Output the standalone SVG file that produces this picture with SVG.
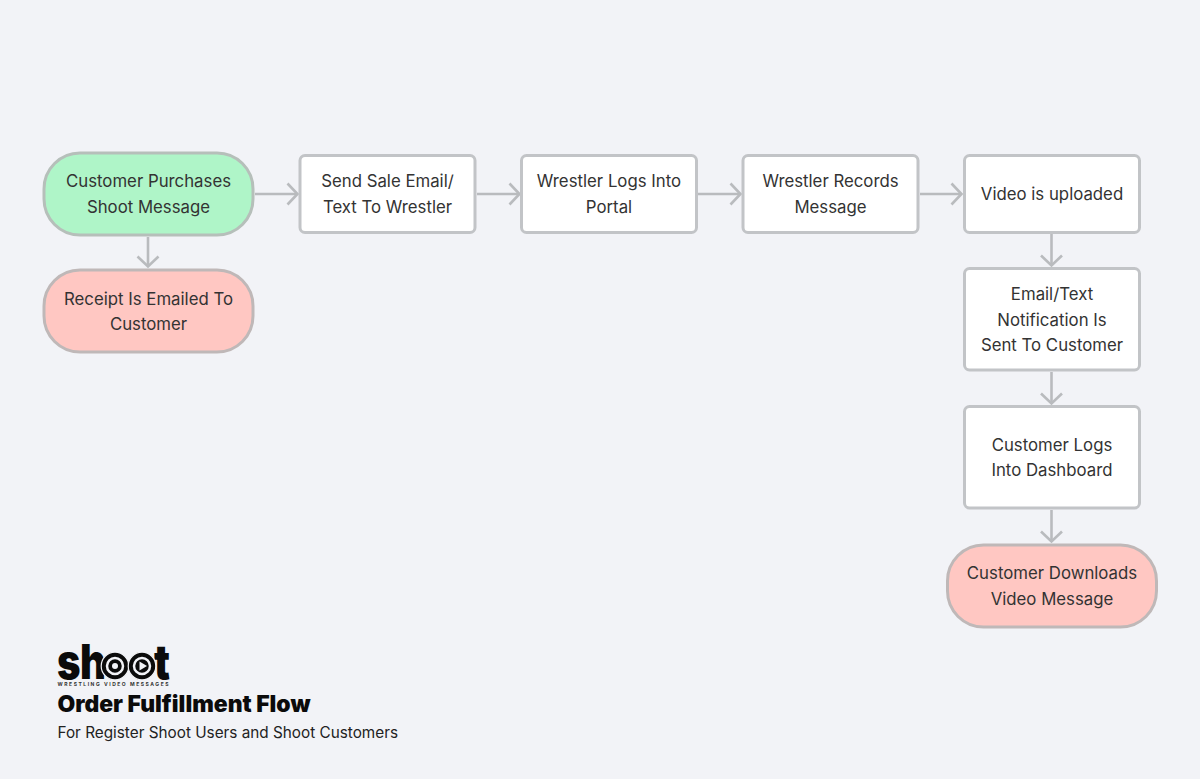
<svg xmlns="http://www.w3.org/2000/svg" width="1200" height="779" viewBox="0 0 1200 779">
<style>
text{font-family:Inter,"Liberation Sans",sans-serif}
.l{font-size:16.800px;fill:#333;text-anchor:middle}
.b{fill:#fff;stroke:#c2c4c7;stroke-width:3}
.g{fill:#aff5c8;stroke:#b6bfba;stroke-width:3}
.r{fill:#ffc7c2;stroke:#bfb8b8;stroke-width:3}
.c{fill:none;stroke:#b9bbbe;stroke-width:2.6}
</style>
<defs>
<marker id="a" markerUnits="userSpaceOnUse" markerWidth="20" markerHeight="24" refX="17" refY="12" orient="auto"><path d="M7.500 1.500 L17.500 12 L7.500 22.500" fill="none" stroke="#b9bbbe" stroke-width="2.6"/></marker>
</defs>
<rect width="1200" height="779" fill="#f2f3f7"/>
<g id="connectors">
<path class="c" marker-end="url(#a)" d="M255 194H297"/>
<path class="c" marker-end="url(#a)" d="M477 194H519"/>
<path class="c" marker-end="url(#a)" d="M698 194H740"/>
<path class="c" marker-end="url(#a)" d="M920 194H961"/>
<path class="c" marker-end="url(#a)" d="M148 237V266"/>
<path class="c" marker-end="url(#a)" d="M1051.500 234V265"/>
<path class="c" marker-end="url(#a)" d="M1051.500 372V403"/>
<path class="c" marker-end="url(#a)" d="M1051.500 510V541"/>
</g>
<g id="n1"><rect class="g" x="44" y="153" width="209" height="82" rx="36"/><text class="l" x="148.500" y="187">Customer Purchases</text><text class="l" x="148.500" y="212.500">Shoot Message</text></g>
<g id="n2"><rect class="r" x="44" y="270" width="209" height="82" rx="36"/><text class="l" x="148.500" y="305">Receipt Is Emailed To</text><text class="l" x="148.500" y="330">Customer</text></g>
<g id="n3"><rect class="b" x="300" y="155.500" width="175" height="77" rx="5"/><text class="l" x="387.500" y="187">Send Sale Email/</text><text class="l" x="387.500" y="212.500">Text To Wrestler</text></g>
<g id="n4"><rect class="b" x="521.500" y="155.500" width="175" height="77" rx="5"/><text class="l" x="609" y="187">Wrestler Logs Into</text><text class="l" x="609" y="212.500">Portal</text></g>
<g id="n5"><rect class="b" x="743" y="155.500" width="175" height="77" rx="5"/><text class="l" x="830.500" y="187">Wrestler Records</text><text class="l" x="830.500" y="212.500">Message</text></g>
<g id="n6"><rect class="b" x="964.500" y="155.500" width="175" height="77" rx="5"/><text class="l" x="1052" y="200">Video is uploaded</text></g>
<g id="n7"><rect class="b" x="964.500" y="268.500" width="175" height="101.500" rx="5"/><text class="l" x="1052" y="300">Email/Text</text><text class="l" x="1052" y="325.500">Notification Is</text><text class="l" x="1052" y="350.500">Sent To Customer</text></g>
<g id="n8"><rect class="b" x="964.500" y="406.500" width="175" height="101.500" rx="5"/><text class="l" x="1052" y="451">Customer Logs</text><text class="l" x="1052" y="476">Into Dashboard</text></g>
<g id="n9"><rect class="r" x="947.500" y="545" width="209" height="82" rx="36"/><text class="l" x="1052" y="579">Customer Downloads</text><text class="l" x="1052" y="604.500">Video Message</text></g>
<g id="title">
<text transform="translate(0 679) scale(1 1.200)" x="57 80 102 129 154" y="0" font-size="40" font-weight="900" fill="#0b0b0b">shoot</text>
<circle cx="115" cy="666" r="13.800" fill="#0b0b0b" stroke="#f2f3f7" stroke-width="1.200"/>
<circle cx="142" cy="666" r="13.800" fill="#0b0b0b" stroke="#f2f3f7" stroke-width="1.200"/>
<circle cx="115" cy="666" r="8" fill="#0b0b0b" stroke="#f2f3f7" stroke-width="2.500"/>
<circle cx="115" cy="666" r="3" fill="#f2f3f7"/>
<circle cx="142" cy="666" r="8" fill="#0b0b0b" stroke="#f2f3f7" stroke-width="2.500"/>
<path d="M139.500 661.500L147 666L139.500 670.500Z" fill="#f2f3f7"/>
<text x="57.500" y="685.500" font-size="5" font-weight="700" fill="#333" textLength="111" lengthAdjust="spacing">WRESTLING VIDEO MESSAGES</text>
<text x="57.500" y="712" font-size="22.500" font-weight="900" fill="#0b0b0b" textLength="253" lengthAdjust="spacingAndGlyphs">Order Fulfillment Flow</text>
<text x="57.500" y="738" font-size="15.300" fill="#222">For Register Shoot Users and Shoot Customers</text>
</g>
</svg>
